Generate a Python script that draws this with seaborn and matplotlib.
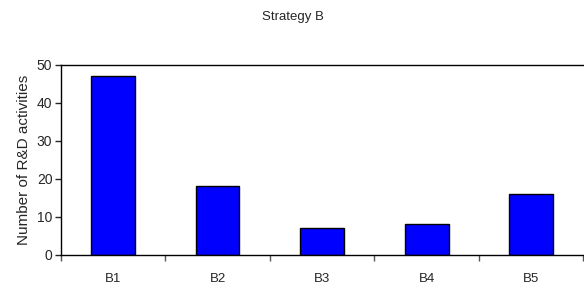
import matplotlib.pyplot as plt
import seaborn as sns
import numpy as np
import pandas as pd

# Data
categories = ['B1', 'B2', 'B3', 'B4', 'B5']
activities = [47, 18, 7, 8, 16]

df = pd.DataFrame({'Strategy': categories, 'Activities': activities})

sns.set_style('white')
plt.rcParams['font.family'] = ['Liberation Sans', 'DejaVu Sans']

fig = plt.figure(figsize=(5.84, 2.89), dpi=100)
ax = fig.add_axes([0.104, 0.118, 0.895, 0.658])

sns.barplot(data=df, x='Strategy', y='Activities', color='#0000ff',
            edgecolor='black', linewidth=1.0, width=0.42, saturation=1, ax=ax)

ax.set_xlim(-0.5, len(categories) - 0.5)
ax.set_ylim(0, 50)
ax.set_yticks(np.arange(0, 51, 10))
ax.set_xlabel('')
ax.set_ylabel('Number of R&D activities', fontsize=11, labelpad=4)
fig.text(0.502, 0.94, 'Strategy B', fontsize=9.5, ha='center', va='center')

# category separators as ticks below the x axis
ax.set_xticks(np.arange(-0.5, len(categories), 1.0), minor=True)
ax.tick_params(axis='x', which='major', length=0, labelsize=9.5, pad=13)
ax.tick_params(axis='x', which='minor', length=4, width=1, color='#555555', direction='out', bottom=True)
ax.tick_params(axis='y', length=4, width=1, direction='out', left=True, labelsize=10, pad=2)

for side in ['left', 'bottom', 'top']:
    ax.spines[side].set_color('black')
    ax.spines[side].set_linewidth(1.0)
ax.spines['right'].set_visible(False)

plt.savefig('out.png', dpi=100)
